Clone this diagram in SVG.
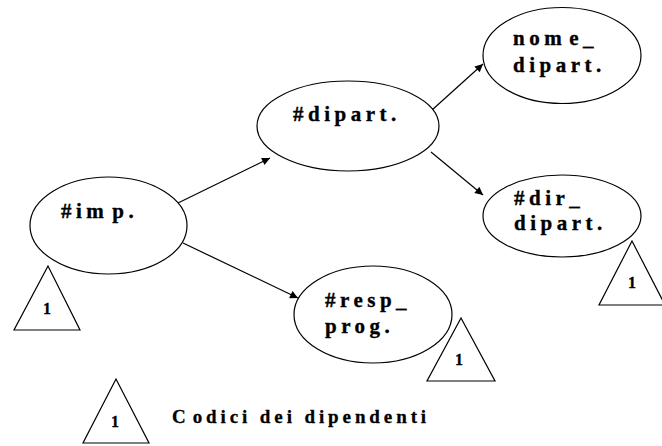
<svg xmlns="http://www.w3.org/2000/svg" width="662" height="446" viewBox="0 0 662 446">
  <style>
    .node ellipse { fill: #fff; stroke: #000; stroke-width: 1.2; }
    .tri { fill: none; stroke: #000; stroke-width: 1.2; }
    .lbl { font-family: "Liberation Serif", "Times New Roman", serif; font-weight: 700; font-size: 21px; letter-spacing: 4.5px; fill: #000; stroke: #000; stroke-width: 0.35; }
    .num { font-family: "Liberation Serif", "Times New Roman", serif; font-weight: 700; font-size: 16px; fill: #000; stroke: #000; stroke-width: 0.3; text-anchor: middle; }
    .legend { font-family: "Liberation Serif", "Times New Roman", serif; font-weight: 700; font-size: 19px; letter-spacing: 3.9px; fill: #000; stroke: #000; stroke-width: 0.3; }
    .edge { stroke: #000; stroke-width: 1.2; fill: none; marker-end: url(#arrow); }
  </style>
  <defs>
    <marker id="arrow" viewBox="0 0 10 10" refX="10" refY="5" markerWidth="11" markerHeight="8" markerUnits="userSpaceOnUse" orient="auto">
      <path d="M0,0 L10,5 L0,10 z" fill="#000"/>
    </marker>
  </defs>

  <!-- connectors -->
  <g id="connectors">
    <line class="edge" x1="178" y1="203" x2="270" y2="158"/>
    <line class="edge" x1="183" y1="243" x2="298" y2="298"/>
    <line class="edge" x1="432" y1="110" x2="483" y2="64"/>
    <line class="edge" x1="431" y1="152" x2="483" y2="195"/>
  </g>

  <!-- nodes -->
  <g id="imp" class="node">
    <ellipse cx="108.5" cy="225.5" rx="78.5" ry="48.5"/>
    <text class="lbl" x="61" y="218">#im<tspan dx="4">p.</tspan></text>
  </g>

  <g id="dipart" class="node">
    <ellipse cx="348" cy="126" rx="91" ry="45"/>
    <text class="lbl" x="293" y="121">#dipart.</text>
  </g>

  <g id="nome_dipart" class="node">
    <ellipse cx="562" cy="55.5" rx="79" ry="48"/>
    <text class="lbl" x="513" y="45">nom<tspan dx="3">e_</tspan></text>
    <text class="lbl" x="513" y="72">dipart.</text>
  </g>

  <g id="dir_dipart" class="node">
    <ellipse cx="562" cy="216" rx="79" ry="41"/>
    <text class="lbl" x="514" y="205">#dir_</text>
    <text class="lbl" x="514" y="230">dipart.</text>
  </g>

  <g id="resp_prog" class="node">
    <ellipse cx="373" cy="314.5" rx="79" ry="48.5"/>
    <text class="lbl" x="325" y="307">#resp_</text>
    <text class="lbl" x="325" y="333">prog.</text>
  </g>

  <!-- dependency markers -->
  <g id="tri-imp">
    <polygon class="tri" points="48,266 14,330 80,330"/>
    <text class="num" x="47" y="314">1</text>
  </g>
  <g id="tri-resp">
    <polygon class="tri" points="461,318 427,381 495,381"/>
    <text class="num" x="459" y="365">1</text>
  </g>
  <g id="tri-dir">
    <polygon class="tri" points="632,241 599,305 665,305"/>
    <text class="num" x="632" y="288">1</text>
  </g>

  <!-- legend -->
  <g id="legend">
    <polygon class="tri" points="116,379 83,443 149,443"/>
    <text class="num" x="115" y="427">1</text>
    <text class="legend" x="172" y="423">C<tspan dx="3">odici dei dipendenti</tspan></text>
  </g>
</svg>
